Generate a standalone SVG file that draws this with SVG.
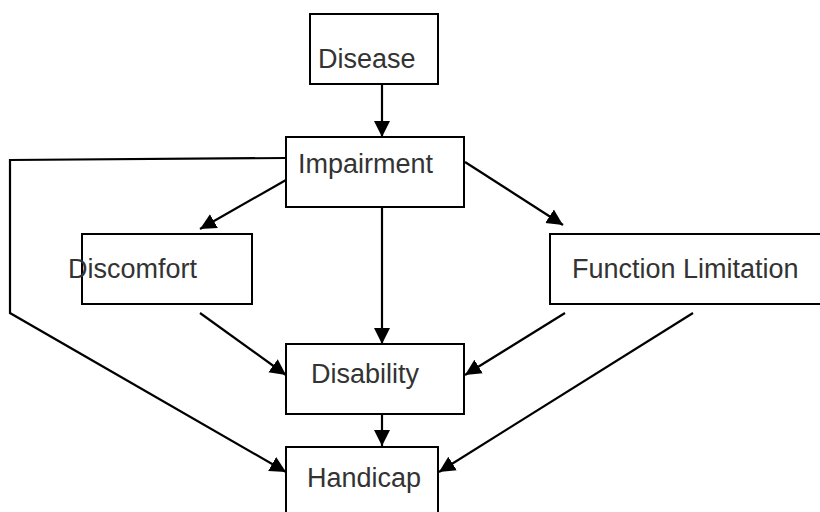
<svg xmlns="http://www.w3.org/2000/svg" width="820" height="512" viewBox="0 0 820 512">
<defs>
<style>
.box{fill:#fff;stroke:#000;stroke-width:2}
.lbl{font-family:"Liberation Sans",Arial,sans-serif;font-size:27px;fill:#333}
.ln{fill:none;stroke:#000;stroke-width:2.2}
</style>
<marker id="ah" markerUnits="userSpaceOnUse" markerWidth="18" markerHeight="18" viewBox="0 0 18 18" refX="16" refY="9" orient="auto">
<path d="M0,1 L16,9 L0,17 Z" fill="#000"/>
</marker>
</defs>
<rect width="820" height="512" fill="#fff"/>
<g id="connectors">
<line class="ln" x1="382" y1="84" x2="382" y2="137" marker-end="url(#ah)"/>
<polyline class="ln" points="286,158 10,160 10,313 286,472" marker-end="url(#ah)"/>
<line class="ln" x1="286" y1="180" x2="200" y2="229" marker-end="url(#ah)"/>
<line class="ln" x1="465" y1="162" x2="563" y2="225" marker-end="url(#ah)"/>
<line class="ln" x1="382" y1="207" x2="382" y2="344" marker-end="url(#ah)"/>
<line class="ln" x1="200" y1="313" x2="286" y2="375" marker-end="url(#ah)"/>
<line class="ln" x1="565" y1="313" x2="465" y2="375" marker-end="url(#ah)"/>
<line class="ln" x1="693" y1="313" x2="439" y2="472" marker-end="url(#ah)"/>
<line class="ln" x1="382" y1="414" x2="382" y2="446" marker-end="url(#ah)"/>
</g>
<g id="disease">
<rect class="box" x="310" y="14" width="128" height="70"/>
<text class="lbl" x="318" y="68">Disease</text>
</g>
<g id="impairment">
<rect class="box" x="286" y="137" width="178" height="70"/>
<text class="lbl" x="298" y="173">Impairment</text>
</g>
<g id="discomfort">
<rect class="box" x="82" y="234" width="170" height="70"/>
<text class="lbl" x="68" y="278">Discomfort</text>
</g>
<g id="function-limitation">
<rect class="box" x="550" y="234" width="280" height="70"/>
<text class="lbl" x="572" y="278">Function Limitation</text>
</g>
<g id="disability">
<rect class="box" x="286" y="344" width="178" height="70"/>
<text class="lbl" x="311" y="383">Disability</text>
</g>
<g id="handicap">
<rect class="box" x="286" y="447" width="152" height="80"/>
<text class="lbl" x="307" y="487">Handicap</text>
</g>
</svg>
